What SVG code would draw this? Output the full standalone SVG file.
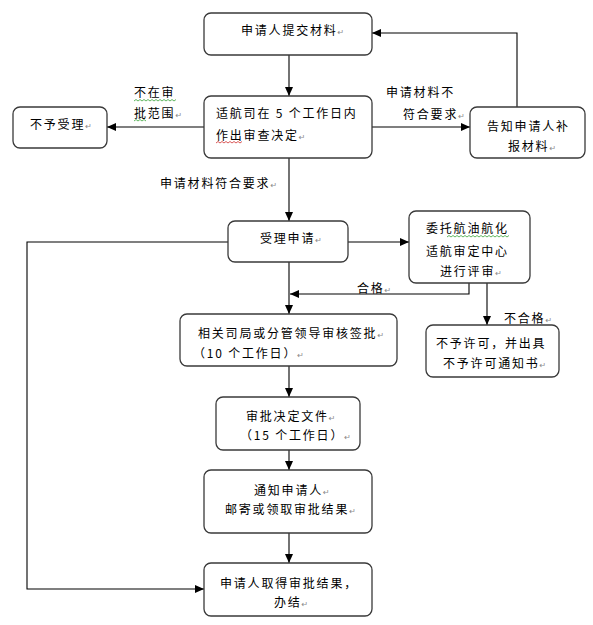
<svg xmlns="http://www.w3.org/2000/svg" width="593" height="625" viewBox="0 0 593 625">
<style>
.box{fill:#fff;stroke:#3a3a3a;stroke-width:1.3}
.t{font-family:"Noto Sans CJK SC","Noto Sans CJK JP",sans-serif;font-size:12px;letter-spacing:1.8px;fill:#000}
.r{font-family:"DejaVu Sans",sans-serif;font-size:8px;fill:#8a8a8a;letter-spacing:0}
.c{fill:none;stroke:#000;stroke-width:1.1}
.wg{fill:none;stroke:#3aa53a;stroke-width:0.8}
.wr{fill:none;stroke:#d03030;stroke-width:0.8}
</style>
<defs>
<marker id="ah" markerUnits="userSpaceOnUse" markerWidth="9" markerHeight="8" refX="9" refY="4" orient="auto">
<path d="M0,0 L9,4 L0,8 z" fill="#000"/>
</marker>
</defs>
<rect width="593" height="625" fill="#fff"/>
<g id="connectors">
<path class="c" d="M289,55 V96" marker-end="url(#ah)"/>
<path class="c" d="M204,127 H107" marker-end="url(#ah)"/>
<path class="c" d="M372,127 H470" marker-end="url(#ah)"/>
<path class="c" d="M517,107 V33 H372" marker-end="url(#ah)"/>
<path class="c" d="M289,158 V221" marker-end="url(#ah)"/>
<path class="c" d="M348,242 H409" marker-end="url(#ah)"/>
<path class="c" d="M228,242 H27 V589 H204" marker-end="url(#ah)"/>
<path class="c" d="M469,283 V294 H290" marker-end="url(#ah)"/>
<path class="c" d="M289,262 V314" marker-end="url(#ah)"/>
<path class="c" d="M487,283 V325" marker-end="url(#ah)"/>
<path class="c" d="M289,366 V397" marker-end="url(#ah)"/>
<path class="c" d="M289,450 V470" marker-end="url(#ah)"/>
<path class="c" d="M289,533 V563" marker-end="url(#ah)"/>
<text class="t" x="134" y="97">不在审</text>
<text class="t" x="134" y="118">批范围<tspan class="r">↵</tspan></text>
<path class="wg" d="M134,101 l2,-1.5 l2,1.5 l2,-1.5 l2,1.5 l2,-1.5 l2,1.5 l2,-1.5 l2,1.5 l2,-1.5 l2,1.5 l2,-1.5 l2,1.5 l2,-1.5 l2,1.5 l2,-1.5 l2,1.5 l2,-1.5 l2,1.5 l2,-1.5 l2,1.5 l2,-1.5"/>
<path class="wg" d="M134,121 l2,-1.5 l2,1.5 l2,-1.5 l2,1.5 l2,-1.5 l2,1.5"/>
<text class="t" x="386" y="97">申请材料不</text>
<text class="t" x="403" y="119">符合要求<tspan class="r">↵</tspan></text>
<text class="t" x="160" y="188">申请材料符合要求<tspan class="r">↵</tspan></text>
<text class="t" x="357" y="293">合格<tspan class="r">↵</tspan></text>
<text class="t" x="504" y="323">不合格<tspan class="r">↵</tspan></text>
</g>
<g id="n1">
<rect class="box" x="204" y="13" width="168" height="42" rx="7"/>
<text class="t" x="241" y="35">申请人提交材料<tspan class="r">↵</tspan></text>
</g>
<g id="n2">
<rect class="box" x="204" y="96" width="168" height="62" rx="7"/>
<text class="t" x="216" y="118">适航司在 5 个工作日内</text>
<text class="t" x="216" y="140">作出审查决定<tspan class="r">↵</tspan></text>
<path class="wr" d="M216,143 l2,-1.5 l2,1.5 l2,-1.5 l2,1.5 l2,-1.5 l2,1.5 l2,-1.5 l2,1.5 l2,-1.5 l2,1.5 l2,-1.5 l2,1.5 l2,-1.5"/>
</g>
<g id="n3">
<rect class="box" x="13" y="107" width="94" height="41" rx="7"/>
<text class="t" x="30" y="129">不予受理<tspan class="r">↵</tspan></text>
</g>
<g id="n4">
<rect class="box" x="470" y="107" width="115" height="51" rx="7"/>
<text class="t" x="487" y="131">告知申请人补</text>
<text class="t" x="508" y="151">报材料<tspan class="r">↵</tspan></text>
</g>
<g id="n5">
<rect class="box" x="228" y="221" width="120" height="41" rx="7"/>
<text class="t" x="260" y="243">受理申请<tspan class="r">↵</tspan></text>
</g>
<g id="n6">
<rect class="box" x="409" y="211" width="121" height="72" rx="7"/>
<text class="t" x="426" y="233">委托航油航化</text>
<path class="wg" d="M447,237 l2,-1.5 l2,1.5 l2,-1.5 l2,1.5 l2,-1.5 l2,1.5 l2,-1.5 l2,1.5 l2,-1.5 l2,1.5 l2,-1.5 l2,1.5 l2,-1.5 l2,1.5 l2,-1.5 l2,1.5 l2,-1.5 l2,1.5 l2,-1.5 l2,1.5 l2,-1.5 l2,1.5 l2,-1.5 l2,1.5 l2,-1.5 l2,1.5 l2,-1.5 l2,1.5 l2,-1.5 l2,1.5 l2,-1.5"/>
<text class="t" x="426" y="256">适航审定中心</text>
<text class="t" x="440" y="276">进行评审<tspan class="r">↵</tspan></text>
</g>
<g id="n7">
<rect class="box" x="180" y="314" width="217" height="52" rx="7"/>
<text class="t" x="198" y="338">相关司局或分管领导审核签批<tspan class="r">↵</tspan></text>
<text class="t" x="193" y="358">（10 个工作日）<tspan class="r">↵</tspan></text>
</g>
<g id="n8">
<rect class="box" x="426" y="325" width="133" height="52" rx="7"/>
<text class="t" x="436" y="348">不予许可，并出具</text>
<text class="t" x="443" y="368">不予许可通知书<tspan class="r">↵</tspan></text>
</g>
<g id="n9">
<rect class="box" x="216" y="397" width="144" height="53" rx="7"/>
<text class="t" x="246" y="421">审批决定文件<tspan class="r">↵</tspan></text>
<text class="t" x="240" y="440">（15 个工作日）<tspan class="r">↵</tspan></text>
</g>
<g id="n10">
<rect class="box" x="204" y="470" width="168" height="63" rx="7"/>
<text class="t" x="254" y="495">通知申请人<tspan class="r">↵</tspan></text>
<text class="t" x="225" y="514">邮寄或领取审批结果<tspan class="r">↵</tspan></text>
</g>
<g id="n11">
<rect class="box" x="204" y="563" width="168" height="53" rx="7"/>
<text class="t" x="220" y="588">申请人取得审批结果，</text>
<text class="t" x="274" y="607">办结<tspan class="r">↵</tspan></text>
</g>
</svg>
